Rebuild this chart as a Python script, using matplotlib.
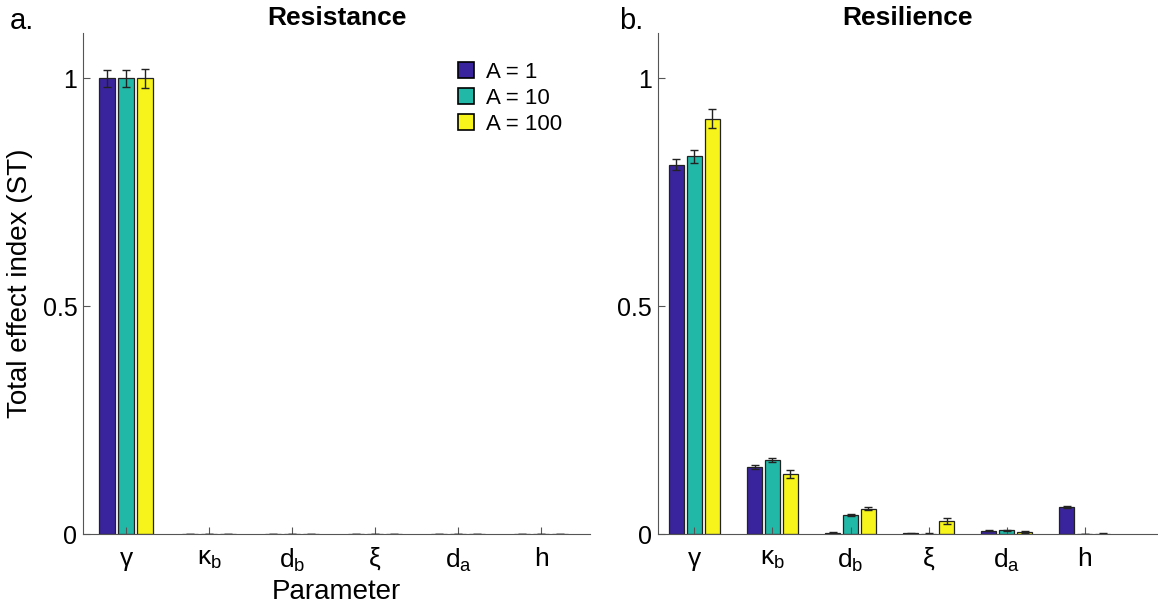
import numpy as np
import matplotlib
matplotlib.use("Agg")
import matplotlib.pyplot as plt
from matplotlib.patches import Patch

plt.rcParams["font.family"] = ["Liberation Sans", "DejaVu Sans"]
plt.rcParams["mathtext.fontset"] = "custom"
plt.rcParams["mathtext.rm"] = "Liberation Sans"
plt.rcParams["mathtext.it"] = "Liberation Sans"

# parameters on the x axis
params = ["γ", r"κ$_{\mathregular{b}}$", r"d$_{\mathregular{b}}$", "ξ",
          r"d$_{\mathregular{a}}$", "h"]
series_labels = ["A = 1", "A = 10", "A = 100"]
colors = ["#3a249e", "#22b8a8", "#f6f41a"]

# total effect index, panel a (Resistance)
resist_a1 = [1.0, 0.0, 0.0, 0.0, 0.0, 0.0]
resist_a10 = [1.0, 0.0, 0.0, 0.0, 0.0, 0.0]
resist_a100 = [1.0, 0.0, 0.0, 0.0, 0.0, 0.0]
resist_err_a1 = [0.018, 0.0, 0.0, 0.0, 0.0, 0.0]
resist_err_a10 = [0.018, 0.0, 0.0, 0.0, 0.0, 0.0]
resist_err_a100 = [0.02, 0.0, 0.0, 0.0, 0.0, 0.0]

# total effect index, panel b (Resilience)
resil_a1 = [0.811, 0.147, 0.003, 0.002, 0.007, 0.059]
resil_a10 = [0.829, 0.163, 0.042, 0.0, 0.008, 0.0]
resil_a100 = [0.912, 0.132, 0.056, 0.029, 0.005, 0.001]
resil_err_a1 = [0.013, 0.004, 0.001, 0.001, 0.001, 0.002]
resil_err_a10 = [0.015, 0.004, 0.002, 0.003, 0.002, 0.0]
resil_err_a100 = [0.02, 0.008, 0.004, 0.007, 0.002, 0.001]


def draw_panel(ax, values, errors, title):
    x = np.arange(1, len(params) + 1)
    width = 0.19
    step = 0.23
    for k, (vals, errs) in enumerate(zip(values, errors)):
        ax.bar(x + (k - 1) * step, vals, width, color=colors[k],
               edgecolor="#222222", linewidth=0.9,
               yerr=errs, capsize=3,
               error_kw=dict(ecolor="#222222", elinewidth=1, capthick=1))
    ax.set_ylim(0, 1.1)
    ax.set_yticks([0, 0.5, 1])
    ax.set_yticklabels(["0", "0.5", "1"])
    ax.set_xticks(x)
    ax.set_xticklabels(params)
    for s in ("left", "bottom"):
        ax.spines[s].set_color("#555555")
    ax.spines["top"].set_visible(False)
    ax.spines["right"].set_visible(False)
    ax.tick_params(direction="in", labelsize=19, length=5, pad=9,
                   color="#555555")
    ax.tick_params(axis="y", labelsize=18, pad=4)
    ax.set_title(title, fontsize=19, fontweight="bold", pad=6)


fig = plt.figure(figsize=(11.58, 6.09), dpi=100)
ax1 = fig.add_axes([0.0717, 0.123, 0.438, 0.823])
ax2 = fig.add_axes([0.568, 0.123, 0.432, 0.823])

draw_panel(ax1, [resist_a1, resist_a10, resist_a100],
           [resist_err_a1, resist_err_a10, resist_err_a100], "Resistance")
draw_panel(ax2, [resil_a1, resil_a10, resil_a100],
           [resil_err_a1, resil_err_a10, resil_err_a100], "Resilience")
ax1.set_xlim(0.48, 6.59)
ax2.set_xlim(0.53, 6.94)

ax1.set_ylabel("Total effect index (ST)", fontsize=20)
ax1.yaxis.set_label_coords(-0.099, 0.5)
ax1.set_xlabel("Parameter", fontsize=20, labelpad=4)

handles = [Patch(facecolor=c, edgecolor="black", linewidth=1.2) for c in colors]
ax1.legend(handles, series_labels, loc="upper right", bbox_to_anchor=(0.985, 0.982),
           frameon=False, fontsize=16, handlelength=0.75, handleheight=0.75,
           handletextpad=0.55, labelspacing=0.22)

fig.text(0.008, 0.965, "a.", fontsize=21, va="center")
fig.text(0.535, 0.965, "b.", fontsize=21, va="center")

fig.savefig("out.png", dpi=100)
